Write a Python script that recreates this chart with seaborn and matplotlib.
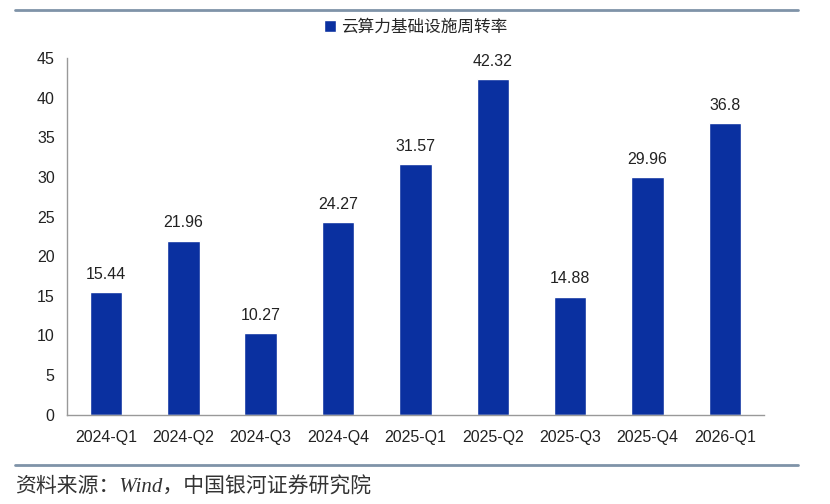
import matplotlib
matplotlib.use("Agg")
import matplotlib.pyplot as plt
import seaborn as sns
import pandas as pd

quarters = ["2024-Q1", "2024-Q2", "2024-Q3", "2024-Q4", "2025-Q1",
            "2025-Q2", "2025-Q3", "2025-Q4", "2026-Q1"]
turnover = [15.44, 21.96, 10.27, 24.27, 31.57, 42.32, 14.88, 29.96, 36.8]
labels = ["15.44", "21.96", "10.27", "24.27", "31.57", "42.32", "14.88", "29.96", "36.8"]
series_name = "云算力基础设施周转率"
source = "资料来源：Wind，中国银河证券研究院"

sns.set_style("white")
plt.rcParams["font.family"] = ["Liberation Sans", "Noto Sans CJK SC", "DejaVu Sans"]

df = pd.DataFrame({"季度": quarters, "值": turnover})
bar_color = "#0a30a0"

fig = plt.figure(figsize=(8.3, 5.04), dpi=100)
ax = fig.add_axes([0.081, 0.177, 0.839, 0.708])
sns.barplot(data=df, x="季度", y="值", color=bar_color, width=0.42,
            saturation=1, ax=ax, label=series_name)

for i, (v, t) in enumerate(zip(turnover, labels)):
    ax.text(i, v + 1.3, t, ha="center", va="bottom", fontsize=11.5, color="#222222")

ax.set_ylim(0, 45)
ax.set_yticks(range(0, 50, 5))
ax.set_xlim(-0.5, 8.5)
ax.set_xlabel("")
ax.set_ylabel("")
ax.tick_params(axis="x", length=0, labelsize=11.5, colors="#222222", pad=11)
ax.tick_params(axis="y", length=0, labelsize=11.5, colors="#222222", pad=9)
for s in ["top", "right"]:
    ax.spines[s].set_visible(False)
for s in ["left", "bottom"]:
    ax.spines[s].set_color("#999999")
    ax.spines[s].set_linewidth(1)

ax.legend(loc="center", bbox_to_anchor=(0.5, 1.087), frameon=False,
          fontsize=12, handlelength=0.7, handleheight=0.7, handletextpad=0.3)

# top and bottom rules
fig.add_artist(plt.Line2D([0.018, 0.962], [0.98, 0.98], color="#7f93a8", lw=2))
fig.add_artist(plt.Line2D([0.018, 0.962], [0.077, 0.077], color="#7f93a8", lw=2))
fig.text(0.018, 0.032, source, fontsize=15, style="italic", color="#333333",
         family=["Liberation Serif", "Noto Sans CJK SC"], va="center")

fig.savefig("out.png", dpi=100)
